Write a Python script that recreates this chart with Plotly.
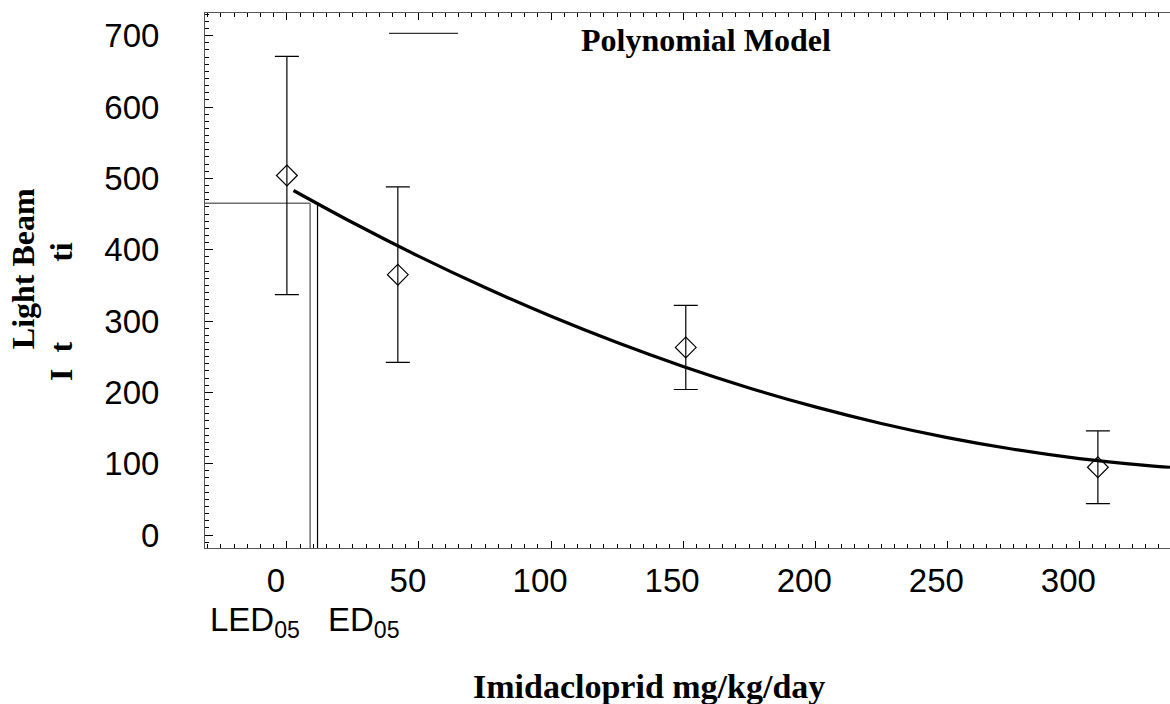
import plotly.graph_objects as go

# ---- data ----
dose = [0, 42, 151, 307]
mean_resp = [504, 365, 263, 95]
sd_resp = [167, 123, 59, 51]

curve_dose = [2.5, 25, 50, 75, 100, 125, 150, 175, 200, 225, 250, 275, 300, 325, 334.3]
curve_resp = [483.0, 437.7, 390.6, 346.9, 306.6, 269.8, 236.3, 206.2, 179.6, 156.4, 136.6,
              120.2, 107.2, 97.7, 95.0]

bmr_level = 465
led05 = 8.8
ed05 = 11.6

x_range = [-31, 334.3]
y_range = [-18.2, 731.8]
x_ticks = [0, 50, 100, 150, 200, 250, 300]
y_ticks = [0, 100, 200, 300, 400, 500, 600, 700]

W, H = 1170, 704
ML, MR, MT, MB = 205, 0, 13, 156
PW, PH = W - ML - MR, H - MT - MB


def px(x):
    return (x - ML) / PW


def py(y):
    return (H - MB - y) / PH


fig = go.Figure()

# BMD / BMDL guide lines
fig.add_trace(go.Scatter(x=[x_range[0], led05], y=[bmr_level, bmr_level], mode="lines",
                         line=dict(color="#6e6e6e", width=1.5), hoverinfo="skip"))
fig.add_trace(go.Scatter(x=[led05, led05], y=[bmr_level, y_range[0]], mode="lines",
                         line=dict(color="#6e6e6e", width=1.5), hoverinfo="skip"))
fig.add_trace(go.Scatter(x=[ed05, ed05], y=[bmr_level, y_range[0]], mode="lines",
                         line=dict(color="black", width=1.2), hoverinfo="skip"))

# model curve
fig.add_trace(go.Scatter(x=curve_dose, y=curve_resp, mode="lines",
                         line=dict(color="black", width=3.2, shape="spline", smoothing=1.0),
                         name="Polynomial Model"))

# observed means with error bars
fig.add_trace(go.Scatter(x=dose, y=mean_resp, mode="markers",
                         marker=dict(symbol="diamond-open", size=16, color="black",
                                     line=dict(color="black", width=1.2)),
                         error_y=dict(type="data", array=sd_resp, visible=True,
                                      color="black", thickness=1.2, width=12)))

axis_common = dict(showgrid=False, zeroline=False, showline=True, linecolor="#555555",
                   linewidth=1, ticks="inside", tickcolor="black",
                   tickfont=dict(family="Liberation Sans", size=33, color="black"))

fig.update_layout(
    width=W, height=H,
    margin=dict(l=ML, r=MR, t=MT, b=MB),
    paper_bgcolor="white", plot_bgcolor="white",
    showlegend=False,
    xaxis=dict(range=x_range, tickvals=x_ticks, ticklen=7, mirror="ticks",
               minor=dict(dtick=5, tick0=0, ticks="inside", ticklen=4, tickcolor="black"),
               ticklabelshift=-11, ticklabelstandoff=3, **axis_common),
    yaxis=dict(range=y_range, tickvals=y_ticks, ticklen=8, mirror=False,
               minor=dict(dtick=10, tick0=0, ticks="inside", ticklen=4, tickcolor="black"),
               ticklabelstandoff=38, **axis_common),
)

# legend sample and text
fig.add_shape(type="line", xref="paper", yref="paper", x0=px(389), x1=px(458),
              y0=py(33.3), y1=py(33.3), line=dict(color="black", width=1))
fig.add_annotation(text="<b>Polynomial Model</b>", xref="paper", yref="paper",
                   x=px(579), y=py(40), xanchor="left", yanchor="middle", showarrow=False,
                   font=dict(family="Liberation Serif", size=32, color="black"))

# axis titles
fig.add_annotation(text="<b>Imidacloprid mg/kg/day</b>", xref="paper", yref="paper",
                   x=px(649), y=py(686), xanchor="center", yanchor="middle", showarrow=False,
                   font=dict(family="Liberation Serif", size=34, color="black"))
fig.add_annotation(text="<b>Light Beam</b>", xref="paper", yref="paper",
                   x=px(23.2), y=py(269), xanchor="center", yanchor="middle", showarrow=False,
                   textangle=-90, font=dict(family="Liberation Serif", size=32, color="black"))
fig.add_annotation(text="<b>I\u00a0\u00a0t" + "\u00a0" * 10 + "ti</b>", xref="paper", yref="paper",
                   x=px(60.9), y=py(311), xanchor="center", yanchor="middle", showarrow=False,
                   textangle=-90, font=dict(family="Liberation Serif", size=32, color="black"))

# LED / ED labels
fig.add_annotation(text="LED<sub>05</sub>", xref="paper", yref="paper",
                   x=px(208), y=py(599), xanchor="left", yanchor="top", showarrow=False,
                   font=dict(family="Liberation Sans", size=33, color="black"))
fig.add_annotation(text="ED<sub>05</sub>", xref="paper", yref="paper",
                   x=px(325.5), y=py(599), xanchor="left", yanchor="top", showarrow=False,
                   font=dict(family="Liberation Sans", size=33, color="black"))

fig.write_html("out.html", config={"displayModeBar": False},
               post_script="document.body.style.margin='0';document.body.style.overflow='hidden';")
